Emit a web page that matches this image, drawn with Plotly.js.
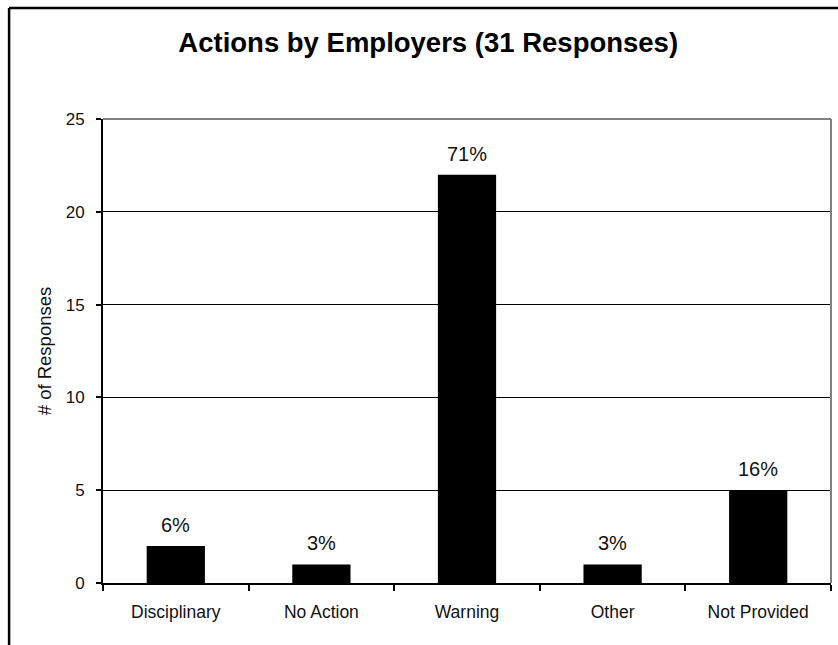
<!DOCTYPE html>
<html>
<head>
<meta charset="utf-8">
<script src="https://cdn.plot.ly/plotly-3.0.1.min.js"></script>
<style>
html,body{margin:0;padding:0;background:#fff;}
#chart{width:838px;height:645px;}
</style>
</head>
<body>
<div id="chart"></div>
<script>
const categories = ["Disciplinary", "No Action", "Warning", "Other", "Not Provided"];
const responses = [2, 1, 22, 1, 5];
const percentLabels = ["6%", "3%", "71%", "3%", "16%"];
const yTicks = [0, 5, 10, 15, 20, 25];

const FONT = "Liberation Sans, Arial, sans-serif";

const trace = {
  type: "bar",
  x: categories,
  y: responses,
  marker: {color: "#000000", line: {width: 0}},
  width: 0.4,
  hoverinfo: "x+y"
};

const annotations = categories.map((c, i) => ({
  x: c, y: responses[i], xref: "x", yref: "y",
  text: percentLabels[i], showarrow: false,
  yanchor: "bottom", yshift: 8,
  font: {family: FONT, size: 20, color: "#111"}
}));

const layout = {
  width: 838, height: 645,
  margin: {l: 103, r: 7, t: 119, b: 62, pad: 0},
  paper_bgcolor: "#fff", plot_bgcolor: "#fff",
  showlegend: false,
  title: {text: "<b>Actions by Employers (31 Responses)</b>", font: {family: FONT, size: 27.5, color: "#000"},
          x: 0.511, xanchor: "center", xref: "container", y: 0.934, yanchor: "middle"},
  xaxis: {
    type: "category", tickson: "boundaries", ticks: "outside", ticklen: 6, tickwidth: 2, tickcolor: "#000",
    showline: true, linecolor: "#000", linewidth: 2, showgrid: false,
    ticklabelstandoff: 12,
    tickfont: {family: FONT, size: 17.5, color: "#111"}, fixedrange: true
  },
  yaxis: {
    range: [0, 25], tickvals: yTicks, ticks: "outside", ticklen: 5, tickwidth: 2, tickcolor: "#000",
    showline: true, linecolor: "#000", linewidth: 2,
    showgrid: true, gridcolor: "#000", gridwidth: 1, zeroline: false,
    ticklabelstandoff: 8,
    tickfont: {family: FONT, size: 17, color: "#111"},
    title: {text: "# of Responses", font: {family: FONT, size: 18.5, color: "#111"}, standoff: 9}
  },
  annotations: annotations,
  shapes: [
    {type: "line", xref: "paper", yref: "paper", x0: 0, x1: 1, y0: 1, y1: 1, line: {color: "#808080", width: 2}},
    {type: "line", xref: "paper", yref: "paper", x0: 1, x1: 1, y0: 0, y1: 1, line: {color: "#808080", width: 2}},
    {type: "line", xref: "paper", yref: "paper", x0: -0.129, x1: 1.2, y0: 1.2392, y1: 1.2392, line: {color: "#000", width: 2.5}},
    {type: "line", xref: "paper", yref: "paper", x0: -0.129, x1: -0.129, y0: 1.2392, y1: -0.3, line: {color: "#000", width: 2.5}}
  ],
  bargap: 0.6
};

Plotly.newPlot("chart", [trace], layout, {displayModeBar: false, staticPlot: true});
</script>
</body>
</html>
